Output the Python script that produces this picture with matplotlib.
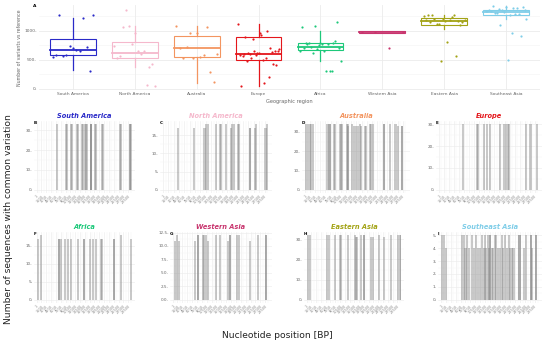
import matplotlib
matplotlib.use("Agg")
import matplotlib.pyplot as plt
import numpy as np

# ---------------- data ----------------
regions = ["South America", "North America", "Australia", "Europe",
           "Africa", "Western Asia", "Eastern Asia", "Southeast Asia"]
region_colors = ["#2a2ac8", "#f5b8cc", "#f39560", "#e4161b",
                 "#1dc87a", "#c8356e", "#a3a316", "#7fcde8"]

# jittered points (number of variants vs reference) per region
pts_sa = [1220, 1260, 1270, 310, 540, 570, 580, 660, 700, 720, 730, 560, 650]
pts_na = [1350, 1080, 1060, 960, 420, 380, 50, 60, 740, 650, 640, 600, 560, 770, 520]
pts_au = [1080, 960, 950, 1060, 290, 120, 550, 530, 600, 720, 700, 570, 520]
pts_eu = [1110, 950, 930, 880, 200, 90, 50, 610, 620, 640, 600, 650, 560, 520, 500,
          590, 700, 680, 860, 420, 410, 520, 580, 630, 570, 610, 480, 1000, 640]
pts_af = [1150, 1060, 1070, 790, 760, 770, 780, 780, 750, 700, 680, 650, 640, 610,
          480, 310, 300, 310, 820, 720, 700, 760, 780]
pts_wa = [970, 975, 980, 700]
pts_ea = [1270, 1250, 1230, 1200, 1190, 1180, 1170, 1160, 1150, 1140, 1120, 1110,
          1100, 1270, 1260, 1200, 800, 560, 470, 1180]
pts_se = [1420, 1410, 1400, 1390, 1380, 1370, 1360, 1350, 1340, 1330, 1320, 1310,
          1300, 1290, 1280, 1270, 1200, 1100, 950, 900, 500, 1330, 1350]
points = [pts_sa, pts_na, pts_au, pts_eu, pts_af, pts_wa, pts_ea, pts_se]

# box statistics (low whisker, q1, median, q3, high whisker)
box_stats = [
    (320, 575, 670, 850, 1220),
    (380, 520, 620, 800, 1080),
    (100, 550, 700, 900, 1070),
    (50, 500, 600, 890, 1110),
    (480, 660, 720, 790, 1000),
    (960, 960, 975, 1000, 1000),
    (1020, 1100, 1160, 1220, 1270),
    (1200, 1270, 1320, 1360, 1420),
]

# common-variation panels: nucleotide positions and sequence counts
pos_sa = [6400, 9300, 9500, 10800, 11000, 12600, 12900, 14200, 14400, 15200, 15500,
          15800, 17000, 17000, 17000, 18300, 18500, 20400, 20600, 25800, 26200, 29100,
          29200, 29300]
cnt_sa = [33] * len(pos_sa)
pos_na = [4300, 8700, 11700, 12000, 12600, 14800, 16000, 16300, 17600, 19000, 19300,
          20000, 21100, 21300, 24500, 24500, 25900, 26200, 28800, 29100]
cnt_na = [17, 17, 17, 18, 18, 18, 18, 18, 18, 17, 18, 18, 18, 18, 17, 17, 17, 18, 17, 18]
pos_au = [460, 900, 1400, 1900, 2300, 6500, 7200, 7200, 8500, 8900, 10400, 10700,
          12400, 12500, 12700, 13800, 14300, 14800, 15500, 16100, 16400, 17500, 17700,
          18900, 19300, 19800, 23100, 23100, 24900, 26400, 27000, 28200, 28200]
cnt_au = [34, 34, 34, 34, 34, 34, 34, 34, 34, 34, 34, 34, 34, 34, 33, 34, 33, 33, 33,
          34, 33, 33, 33, 34, 34, 34, 34, 34, 34, 34, 33, 33, 33]
pos_eu = [7200, 11300, 11700, 13400, 14400, 15100, 18100, 19300, 19900, 20600, 20700,
          25800, 27200, 29100]
cnt_eu = [30, 30, 30, 30, 30, 30, 30, 30, 30, 30, 30, 30, 30, 30]
pos_af = [500, 1500, 6900, 7000, 7700, 8700, 9800, 10800, 12800, 14600, 14800, 16700,
          17500, 18500, 20100, 20300, 24100, 24100, 26400, 29300]
cnt_af = [17, 18, 17, 17, 17, 17, 17, 17, 17, 17, 17, 17, 17, 17, 17, 17, 17, 17, 18, 17]
pos_wa = [800, 1400, 2000, 6900, 7700, 7700, 9300, 9800, 10300, 11000, 13300, 14600,
          17000, 17700, 17700, 19900, 20500, 23800, 26200, 28700, 28700]
cnt_wa = [11, 12, 11, 11, 12, 12, 12, 12, 12, 11, 12, 12, 11, 12, 12, 12, 12, 11, 12,
          12, 12]
pos_ea = [400, 1000, 6500, 7100, 8800, 10600, 10900, 13000, 15200, 15600, 15900,
          17200, 17900, 17900, 20200, 21000, 22600, 24400, 26500, 28700, 29400, 29500]
cnt_ea = [32, 32, 32, 32, 32, 32, 32, 32, 32, 31, 31, 32, 32, 32, 31, 31, 32, 31, 32,
          32, 32, 32]
pos_se = [500, 1000, 1500, 6500, 7000, 7500, 8000, 8500, 9500, 10000, 10800, 11300,
          12000, 12500, 13000, 13400, 13800, 14200, 14600, 15000, 15000, 15400, 15800,
          16300, 16800, 17300, 17800, 18400, 18900, 19400, 19900, 20500, 21000, 21500,
          22000, 23800, 23800, 25300, 25800, 27300, 27300, 27700, 28700, 28700]
cnt_se = [5, 5, 4, 5, 5, 4, 5, 4, 5, 4, 5, 4, 4, 5, 4, 5, 4, 5, 4, 5, 5, 4, 4, 5, 5, 4,
          4, 5, 4, 5, 4, 5, 4, 4, 4, 5, 5, 4, 5, 5, 5, 4, 5, 5]
panel_pos = [pos_sa, pos_na, pos_au, pos_eu, pos_af, pos_wa, pos_ea, pos_se]
panel_cnt = [cnt_sa, cnt_na, cnt_au, cnt_eu, cnt_af, cnt_wa, cnt_ea, cnt_se]
panel_letters = ["B", "C", "D", "E", "F", "G", "H", "I"]
panel_yticks = [[0, 10, 20, 30], [0, 5, 10, 15], [0, 10, 20, 30], [0, 10, 20, 30],
                [0, 5, 10, 15], [0, 2.5, 5, 7.5, 10, 12.5], [0, 10, 20, 30],
                [0, 1, 2, 3, 4, 5]]
xtick_values = list(range(0, 30000, 1500))
xtick_labels = ["1"] + [str(v) for v in xtick_values[1:]]

# ---------------- figure ----------------
W, H = 550, 342
fig = plt.figure(figsize=(5.5, 3.42), dpi=100)
fig.patch.set_facecolor("white")

def px_axes(x0, y0, x1, y1):
    return fig.add_axes([x0 / W, 1 - y1 / H, (x1 - x0) / W, (y1 - y0) / H])

grid_c = "#ebebeb"
tick_c = "#666666"

# ---- top boxplot ----
ax = px_axes(39, 5, 540, 90)
ax.set_xlim(0.45, 8.55)
ax.set_ylim(-25, 1440)
for v in [250, 750, 1250]:
    ax.axhline(v, color="#f4f4f4", lw=0.4, zorder=0)
for v in [0, 500, 1000]:
    ax.axhline(v, color=grid_c, lw=0.6, zorder=0)
for i in range(8):
    ax.axvline(i + 1, color=grid_c, lw=0.6, zorder=0)
rng = np.random.default_rng(3)
for i, (st, col) in enumerate(zip(box_stats, region_colors)):
    x = i + 1
    lo, q1, med, q3, hi = st
    w = 0.37
    ax.plot([x, x], [lo, q1], color=col, lw=0.9, zorder=2)
    ax.plot([x, x], [q3, hi], color=col, lw=0.9, zorder=2)
    ax.add_patch(plt.Rectangle((x - w, q1), 2 * w, q3 - q1, fill=False,
                               edgecolor=col, lw=0.8, zorder=3))
    ax.plot([x - w, x + w], [med, med], color=col, lw=1.3, zorder=3)
    pv = points[i]
    jit = np.linspace(-0.33, 0.33, len(pv))
    rng.shuffle(jit)
    ax.scatter(x + jit, pv, s=2.5, color=col, zorder=4, linewidths=0)
ax.set_xticks(range(1, 9))
ax.set_xticklabels(regions, fontsize=3.2, color=tick_c)
ax.set_yticks([0, 500, 1000])
ax.set_yticklabels(["0-", "500-", "1000-"], fontsize=3.2, color=tick_c)
ax.tick_params(length=0, pad=1.5)
for s in ax.spines.values():
    s.set_visible(False)
ax.set_ylabel("Number of variants vs reference", fontsize=3.4, color=tick_c, labelpad=2)
ax.set_xlabel("Geographic region", fontsize=3.6, color=tick_c, labelpad=2)
fig.text(33 / W, 1 - 4 / H, "A", fontsize=3.2, fontweight="bold", va="top")

# ---- bottom panels ----
col_x = [(34, 135), (160, 272), (302, 410), (436, 542)]
col_x2 = [(34, 135), (170, 272), (304, 404), (438, 542)]
row_y = [(121, 193), (232, 303)]
for k in range(8):
    r, c = divmod(k, 4)
    xs = col_x[c] if r == 0 else col_x2[c]
    y0, y1 = row_y[r]
    a = px_axes(xs[0], y0, xs[1], y1)
    cnts = panel_cnt[k]
    ymax = max(cnts)
    a.set_ylim(-0.05 * ymax, ymax * 1.05)
    a.set_xlim(-800, 30600)
    for v in xtick_values:
        a.axvline(v, color=grid_c, lw=0.4, zorder=0)
        a.axvline(v + 750, color="#f5f5f5", lw=0.3, zorder=0)
    yt = panel_yticks[k]
    for v in yt:
        a.axhline(v, color=grid_c, lw=0.4, zorder=0)
    for j in range(len(yt) - 1):
        a.axhline((yt[j] + yt[j + 1]) / 2, color="#f5f5f5", lw=0.3, zorder=0)
    a.bar(panel_pos[k], cnts, width=620, color="#808080", alpha=0.42,
          linewidth=0, zorder=2)
    a.set_xticks(xtick_values)
    a.set_xticklabels(xtick_labels, rotation=45, ha="right", rotation_mode="anchor",
                      fontsize=2.5, color="#888888")
    a.set_yticks(yt)
    a.set_yticklabels([("%g" % v if k != 5 else "%.1f" % v) + "-" for v in yt],
                      fontsize=3.0, color=tick_c)
    a.tick_params(length=0, pad=1)
    for s in a.spines.values():
        s.set_visible(False)
    a.set_title(regions[k], fontsize=4.8, fontweight="bold", fontstyle="italic",
                color=region_colors[k], pad=2.5)
    a.text(0.0, 1.0, panel_letters[k], transform=a.transAxes, fontsize=3,
           fontweight="bold", va="top", ha="left")

fig.text(9 / W, 0.36, "Number of sequences with common variation", rotation=90,
         fontsize=6.6, ha="center", va="center", color="#222222")
fig.text(277 / W, 1 - 335 / H, "Nucleotide position [BP]", fontsize=6.6,
         ha="center", va="center", color="#222222")

fig.savefig("out.png", dpi=100, facecolor="white")
